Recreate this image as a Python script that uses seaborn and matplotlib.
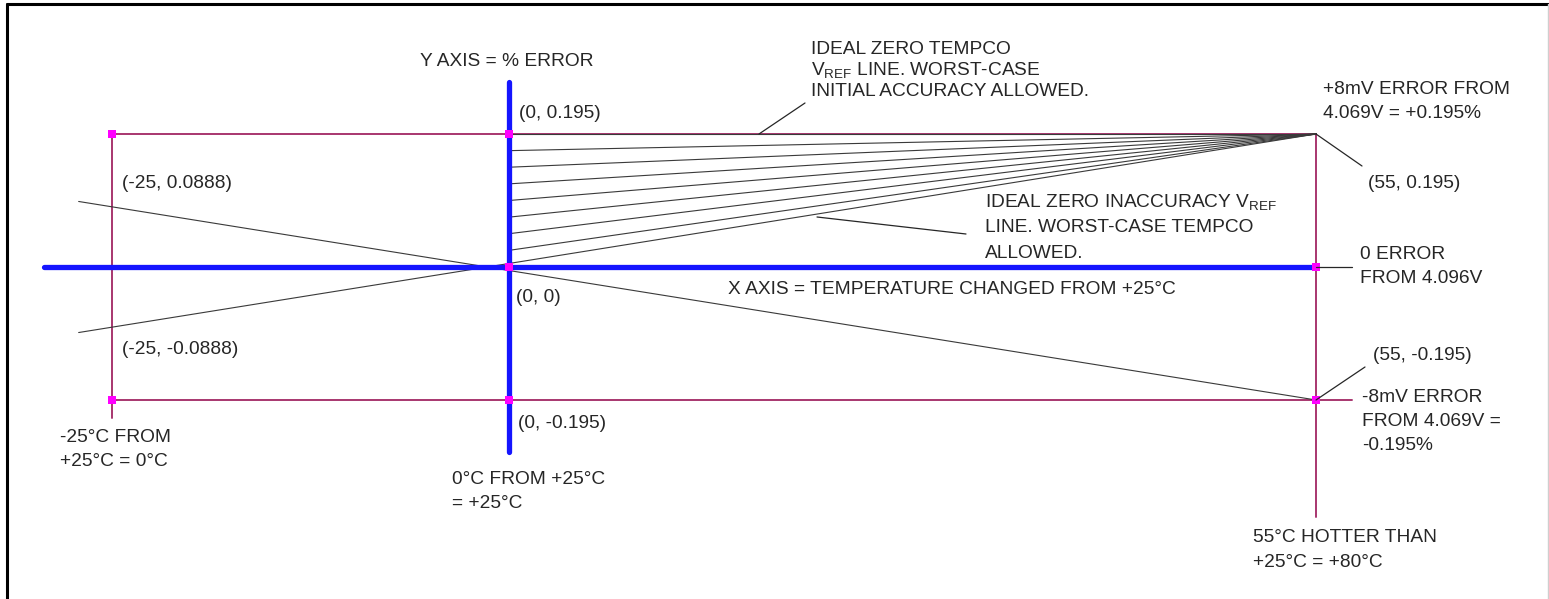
import numpy as np
import pandas as pd
import matplotlib
matplotlib.use("Agg")
import matplotlib.pyplot as plt
from matplotlib.lines import Line2D
import seaborn as sns

# Diagram values (x = temperature change from +25C, y = % error)
X_LEFT, X_ORIGIN, X_RIGHT = -25, 0, 55
Y_TOP, Y_BOT = 0.195, -0.195
TEMPCO_Y_AT_LEFT = 0.0888
# starting points of the fan lines on the y axis (all end at (55, 0.195))
FAN_START = [0.0244, 0.0488, 0.0731, 0.0975, 0.1219, 0.1463, 0.1706, 0.195]
# worst tempco lines drawn from x = -27.1 out to x = 55
TEMPCO_X = [-27.1, 55]
TEMPCO_SLOPE = Y_TOP / X_RIGHT
# axis extents
BLUE_X = [-29.3, 55]
BLUE_Y = [-0.271, 0.271]
# pink box / guide extents
LEFT_GUIDE_Y = [0.195, -0.221]
RIGHT_GUIDE_Y = [0.195, -0.367]
BOTTOM_GUIDE_X = [-25, 57.45]
DOTS_X = [-25, 0, -25, 0, 0, 55, 55]
DOTS_Y = [0.195, 0.195, -0.195, -0.195, 0, 0, -0.195]

W, H = 1549, 599
BLUE = "#1515ff"
PINK = "#a8366f"
MAGENTA = "#ff00ff"
INK = "#262626"

sns.set_style("white")
plt.rcParams["font.family"] = ["Liberation Sans", "DejaVu Sans"]
plt.rcParams["mathtext.fontset"] = "custom"
plt.rcParams["mathtext.rm"] = "Liberation Sans"

fig = plt.figure(figsize=(W / 100, H / 100), dpi=100)
ax = fig.add_axes([0, 0, 1, 1])

# the drawing is not to scale: left half is a bit wider per degree
KL, KR = 15.88, 14.673
ax.set_xscale("function", functions=(lambda x: np.where(x < 0, x * KL, x * KR),
                                     lambda p: np.where(p < 0, p / KL, p / KR)))
ax.set_xlim(-509 / KL, (W - 509) / KR)
ax.set_ylim(-(H - 267) / 682, 267 / 682)
ax.axis("off")

# pink box
ax.plot([X_LEFT, X_RIGHT], [Y_TOP, Y_TOP], color=PINK, lw=1.4, zorder=2)
ax.plot(BOTTOM_GUIDE_X, [Y_BOT, Y_BOT], color=PINK, lw=1.4, zorder=2)
ax.plot([X_LEFT, X_LEFT], LEFT_GUIDE_Y, color=PINK, lw=1.4, zorder=2)
ax.plot([X_RIGHT, X_RIGHT], RIGHT_GUIDE_Y, color=PINK, lw=1.4, zorder=2)

# fan of lines: zero tempco through worst-case initial accuracy
fan = pd.DataFrame({
    "x": [X_ORIGIN, X_RIGHT] * len(FAN_START),
    "y": [v for y0 in FAN_START for v in (y0, Y_TOP)],
    "line": np.repeat(np.arange(len(FAN_START)), 2),
})
sns.lineplot(data=fan, x="x", y="y", units="line", estimator=None, sort=False,
             color="#3a3a3a", lw=0.8, ax=ax, zorder=3)

# worst-case tempco lines through the origin
tx = np.array(TEMPCO_X)
ax.plot(tx, TEMPCO_SLOPE * tx, color="#3a3a3a", lw=0.8, zorder=3)
ax.plot(tx, -TEMPCO_SLOPE * tx, color="#3a3a3a", lw=0.8, zorder=3)

# blue axes
ax.plot(BLUE_X, [0, 0], color=BLUE, lw=3.8, solid_capstyle="round", zorder=4)
ax.plot([0, 0], BLUE_Y, color=BLUE, lw=3.8, solid_capstyle="round", zorder=4)

sns.scatterplot(x=DOTS_X, y=DOTS_Y, color=MAGENTA, s=28, marker="s",
                edgecolor="none", ax=ax, zorder=5)

# ---- leaders and frame (figure pixels) ----
def seg(x1, y1, x2, y2, color=INK, lw=0.9):
    fig.add_artist(Line2D([x1 / W, x2 / W], [1 - y1 / H, 1 - y2 / H], color=color, lw=lw))

seg(759, 134, 805, 103)
seg(817, 217, 966, 234)
seg(1316, 134, 1362, 166)
seg(1316, 267, 1352, 267)
seg(1316, 400, 1365, 367)

seg(7.5, 3.5, 7.5, H, color="black", lw=2.2)
seg(7.5, 3.5, W, 3.5, color="black", lw=2.2)
seg(1547.5, 4, 1547.5, H, color="#cfcfcf", lw=1.0)

FS = 13.8
def label(x, y, lines, pitch=24.5):
    if isinstance(lines, str):
        lines = [lines]
    for i, s in enumerate(lines):
        fig.text(x / W, 1 - (y + i * pitch) / H, s, ha="left", va="center",
                 fontsize=FS, color=INK)

VREF = r"V$_{\mathrm{REF}}$"
label(420, 61, "Y AXIS = % ERROR")
label(519, 113, "(0, 0.195)")
label(811, 50, ["IDEAL ZERO TEMPCO", VREF + " LINE. WORST-CASE", "INITIAL ACCURACY ALLOWED."], pitch=20.5)
label(1323, 89, ["+8mV ERROR FROM", "4.069V = +0.195%"])
label(1368, 183, "(55, 0.195)")
label(122, 183, "(-25, 0.0888)")
label(985, 203, ["IDEAL ZERO INACCURACY " + VREF, "LINE. WORST-CASE TEMPCO", "ALLOWED."], pitch=25)
label(1360, 254, ["0 ERROR", "FROM 4.096V"])
label(728, 289, "X AXIS = TEMPERATURE CHANGED FROM +25°C")
label(516, 298, "(0, 0)")
label(122, 350, "(-25, -0.0888)")
label(1373, 356, "(55, -0.195)")
label(1362, 397, ["-8mV ERROR", "FROM 4.069V =", "-0.195%"])
label(60, 437, ["-25°C FROM", "+25°C = 0°C"])
label(518, 424, "(0, -0.195)")
label(452, 479, ["0°C FROM +25°C", "= +25°C"])
label(1253, 538, ["55°C HOTTER THAN", "+25°C = +80°C"])

fig.savefig("out.png", dpi=100, facecolor="white")
